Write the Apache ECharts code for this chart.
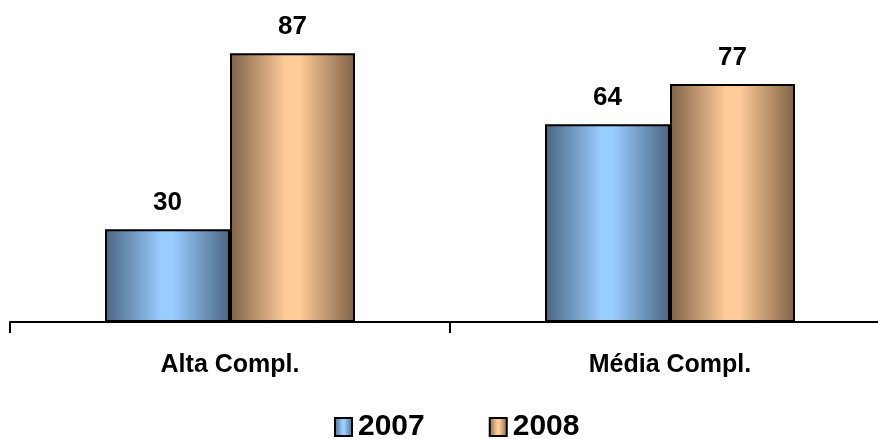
<!DOCTYPE html>
<html>
<head>
<meta charset="utf-8">
<script src="https://cdn.jsdelivr.net/npm/echarts@6/dist/echarts.min.js"></script>
<style>
  html, body { margin: 0; padding: 0; background: #fff; }
  #chart { width: 878px; height: 439px; }
</style>
</head>
<body>
<div id="chart"></div>
<script>
const categories = ['Alta Compl.', 'Média Compl.'];
const seriesNames = ['2007', '2008'];
const values2007 = [30, 64];
const values2008 = [87, 77];

const FONT = 'Arial, "Liberation Sans", sans-serif';

// horizontal shading: dark edges, light centre
function shade(dark, light) {
  return new echarts.graphic.LinearGradient(0, 0, 1, 0, [
    { offset: 0, color: dark },
    { offset: 0.45, color: light },
    { offset: 0.55, color: light },
    { offset: 1, color: dark }
  ]);
}

const chart = echarts.init(document.getElementById('chart'));

function barSeries(name, data, dark, light) {
  return {
    name: name,
    type: 'bar',
    data: data,
    barWidth: 125,
    barGap: '0%',
    itemStyle: {
      color: shade(dark, light),
      borderColor: '#000',
      borderWidth: 2
    },
    label: {
      show: true,
      position: 'top',
      distance: 13,
      color: '#000',
      fontFamily: FONT,
      fontWeight: 'bold',
      fontSize: 26
    }
  };
}

chart.setOption({
  animation: false,
  // the axis runs a little past the right edge of the canvas
  grid: { left: 10, width: 880, top: 13, bottom: 117, outerBoundsMode: 'none' },
  legend: {
    top: 407,
    left: 329,
    itemWidth: 17,
    itemHeight: 18,
    itemGap: 64,
    icon: 'rect',
    textStyle: {
      color: '#000',
      fontFamily: FONT,
      fontWeight: 'bold',
      fontSize: 30,
      padding: [2, 0, 0, 1]
    },
    data: seriesNames
  },
  xAxis: {
    type: 'category',
    data: categories,
    axisLine: { lineStyle: { color: '#000', width: 2 } },
    axisTick: { show: true, length: 11, lineStyle: { color: '#000', width: 2 } },
    axisLabel: {
      margin: 31,
      color: '#000',
      fontFamily: FONT,
      fontWeight: 'bold',
      fontSize: 25
    }
  },
  yAxis: {
    type: 'value',
    min: 0,
    max: 100,
    show: false
  },
  series: [
    barSeries(seriesNames[0], values2007, '#4a6580', '#99ccff'),
    barSeries(seriesNames[1], values2008, '#7f6248', '#ffcc99')
  ]
});
</script>
</body>
</html>
